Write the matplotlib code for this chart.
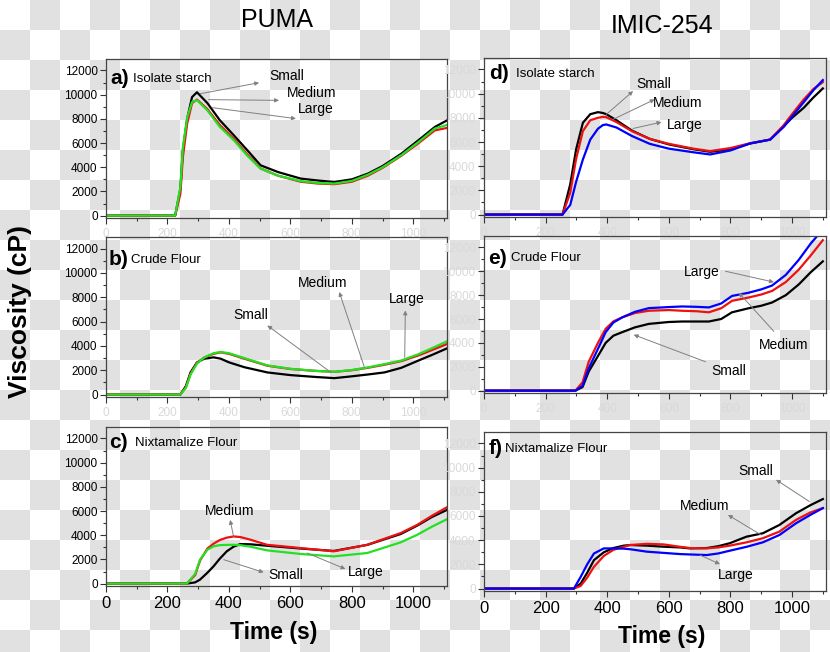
import matplotlib
matplotlib.use("Agg")
import matplotlib.pyplot as plt
import numpy as np

plt.rcParams['font.family'] = ['Liberation Sans', 'DejaVu Sans']

# ---- data (time in s, viscosity in cP) ----
t_a = [0, 225, 242, 250, 264, 280, 296, 330, 370, 416, 460, 503, 560, 634, 690, 743, 800, 852, 900, 961, 1020, 1070, 1110]
a_small = [0, 0, 2200, 5400, 8000, 9800, 10200, 9300, 7900, 6640, 5400, 4160, 3600, 3060, 2900, 2780, 3000, 3470, 4100, 5120, 6300, 7330, 7880]
a_medium = [0, 0, 1800, 4800, 7600, 9300, 9600, 8800, 7500, 6350, 5050, 3900, 3300, 2800, 2650, 2600, 2800, 3300, 3950, 4950, 6050, 7050, 7250]
a_large = [0, 0, 2400, 5600, 8100, 9400, 9550, 8700, 7350, 6230, 4950, 3880, 3300, 2850, 2700, 2650, 2870, 3380, 4000, 5000, 6150, 7200, 7500]

t_b = [0, 242, 260, 275, 296, 320, 350, 373, 400, 450, 525, 600, 680, 743, 800, 852, 906, 961, 1015, 1060, 1110]
b_small = [0, 0, 700, 1820, 2640, 2950, 3060, 2950, 2650, 2250, 1820, 1600, 1450, 1350, 1500, 1650, 1820, 2200, 2780, 3250, 3800]
b_medium = [0, 0, 600, 1700, 2600, 3050, 3350, 3470, 3350, 2950, 2370, 2100, 1950, 1870, 2000, 2200, 2450, 2750, 3200, 3650, 4160]
b_large = [0, 0, 550, 1650, 2550, 3050, 3400, 3500, 3400, 3000, 2400, 2120, 1950, 1870, 2020, 2230, 2500, 2800, 3300, 3800, 4380]

t_c = [0, 263, 290, 306, 330, 350, 370, 393, 415, 437, 470, 524, 633, 741, 850, 959, 1013, 1060, 1110]
c_small = [0, 0, 100, 330, 900, 1430, 2050, 2670, 3050, 3270, 3250, 3130, 2900, 2700, 3200, 4100, 4800, 5500, 6100]
c_medium = [0, 0, 700, 1900, 2900, 3300, 3600, 3800, 3900, 3850, 3630, 3210, 2940, 2670, 3210, 4180, 4860, 5600, 6320]
c_large = [0, 0, 800, 1980, 2800, 3080, 3180, 3200, 3210, 3180, 3050, 2750, 2450, 2250, 2530, 3410, 4040, 4700, 5330]

t_d = [0, 255, 280, 299, 321, 345, 370, 386, 397, 430, 480, 538, 600, 680, 734, 800, 864, 929, 973, 1000, 1038, 1070, 1100]
d_small = [0, 0, 2500, 5380, 7590, 8300, 8470, 8400, 8300, 7800, 6950, 6260, 5800, 5400, 5190, 5400, 5880, 6200, 7310, 8000, 8830, 9700, 10430]
d_medium = [0, 0, 1800, 4600, 6900, 7800, 8000, 8080, 8050, 7650, 6900, 6260, 5850, 5450, 5250, 5500, 5900, 6200, 7400, 8300, 9520, 10400, 10950]
d_large = [0, 0, 800, 2700, 4550, 6200, 7100, 7400, 7450, 7200, 6500, 5850, 5450, 5150, 4970, 5300, 5880, 6200, 7250, 8100, 9300, 10300, 11120]

t_e = [0, 297, 320, 340, 370, 395, 420, 449, 490, 535, 600, 643, 690, 730, 770, 805, 859, 900, 935, 980, 1022, 1060, 1100]
e_small = [0, 0, 300, 1600, 2900, 4000, 4600, 4900, 5300, 5590, 5750, 5790, 5790, 5790, 6000, 6560, 6900, 7110, 7380, 8000, 8900, 9900, 10830]
e_medium = [0, 0, 700, 2420, 4000, 5180, 5800, 6140, 6500, 6690, 6750, 6690, 6650, 6560, 6900, 7520, 7800, 8050, 8350, 9100, 10140, 11300, 12600]
e_large = [0, 0, 400, 1870, 3500, 4900, 5700, 6140, 6600, 6910, 7000, 7050, 7020, 6970, 7300, 7930, 8200, 8480, 8800, 9700, 10960, 12300, 13500]

t_f = [0, 292, 314, 335, 357, 389, 420, 454, 475, 529, 583, 637, 669, 723, 760, 798, 852, 905, 959, 1013, 1060, 1100]
f_small = [0, 0, 415, 1300, 2350, 3000, 3350, 3550, 3600, 3550, 3460, 3400, 3320, 3350, 3500, 3750, 4290, 4570, 5260, 6230, 6900, 7400]
f_medium = [0, 0, 220, 900, 1800, 2700, 3200, 3460, 3600, 3700, 3650, 3450, 3350, 3320, 3400, 3550, 3820, 4160, 4710, 5680, 6300, 6650]
f_large = [0, 0, 970, 2000, 2900, 3320, 3320, 3300, 3250, 3050, 2950, 2850, 2820, 2770, 2900, 3130, 3450, 3820, 4430, 5400, 6100, 6650]

# labels: (text, text pos, arrow tail, arrow head)
ann_a = [("Small", (588, 11540), (307, 10080), (498, 10990)),
         ("Medium", (670, 10140), (334, 9590), (563, 9530)),
         ("Large", (683, 8840), (345, 8930), (618, 8020))]
ann_b = [("Small", (470, 6500), (732, 1820), (525, 5680)),
         ("Medium", (705, 9200), (841, 2230), (759, 8430)),
         ("Large", (980, 7880), (972, 3060), (974, 6910))]
ann_c = [("Medium", (402, 6040), (415, 3900), (404, 5270)),
         ("Small", (584, 740), (383, 1980), (513, 930)),
         ("Large", (845, 930), (654, 2530), (779, 1210))]
ann_d = [("Small", (551, 10810), (397, 8280), (484, 10210)),
         ("Medium", (630, 9240), (418, 7860), (554, 9520)),
         ("Large", (652, 7370), (484, 7120), (576, 7640))]
ann_e = [("Large", (708, 9940), (784, 10000), (941, 9090)),
         ("Medium", (973, 3800), (941, 4960), (827, 8210)),
         ("Small", (795, 1650), (719, 2420), (486, 4680))]
ann_f = [("Small", (881, 9700), (1056, 7200), (948, 9000)),
         ("Medium", (717, 6790), (900, 4430), (792, 6090)),
         ("Large", (817, 1110), (701, 2770), (766, 2020))]

fig = plt.figure(figsize=(8.3, 6.52), dpi=100)

# checkerboard backdrop
H, W = 652, 830
yy, xx = np.mgrid[0:H, 0:W]
board = np.where(((xx // 30) + (yy // 30)) % 2 == 1, 0.88, 1.0)
fig.figimage(board, cmap='gray', vmin=0, vmax=1, origin='upper', zorder=-10)

green = '#22e022'
panels = [
    # rect, tag, name, t, small, medium, large, third colour, annotations, tag x, name x, label y
    ([0.1277, 0.6656, 0.411, 0.2439], 'a)', 'Isolate starch', t_a, a_small, a_medium, a_large, green, ann_a, 15, 88, 11300),
    ([0.1277, 0.3911, 0.411, 0.2454], 'b)', 'Crude Flour', t_b, b_small, b_medium, b_large, green, ann_b, 10, 80, 11100),
    ([0.1277, 0.1012, 0.411, 0.2439], 'c)', 'Nixtamalize Flour', t_c, c_small, c_medium, c_large, green, ann_c, 10, 95, 11650),
    ([0.5831, 0.6672, 0.412, 0.2439], 'd)', 'Isolate starch', t_d, d_small, d_medium, d_large, 'blue', ann_d, 18, 105, 11650),
    ([0.5831, 0.3972, 0.412, 0.2408], 'e)', 'Crude Flour', t_e, e_small, e_medium, e_large, 'blue', ann_e, 12, 88, 11100),
    ([0.5831, 0.0936, 0.412, 0.2439], 'f)', 'Nixtamalize Flour', t_f, f_small, f_medium, f_large, 'blue', ann_f, 14, 68, 11550),
]

faint = '#d9d9d9'
for i, (rect, tag, name, t, s, m, l, c3, anns, tx, nx, ly) in enumerate(panels):
    ax = fig.add_axes(rect)
    ax.set_facecolor('none')
    ax.plot(t, s, color='black', lw=1.6)
    ax.plot(t, m, color='#ee1111', lw=1.6)
    ax.plot(t, l, color=c3, lw=1.6)
    ax.set_xlim(0, 1110)
    ax.set_ylim(-200, 12950)
    ax.set_xticks(range(0, 1001, 200))
    ax.set_xticks(range(100, 1101, 200), minor=True)
    ax.set_yticks(range(0, 12001, 2000))
    ax.set_yticks(range(1000, 12001, 2000), minor=True)
    ax.tick_params(which='major', length=4, width=0.8, color='#333333')
    ax.tick_params(which='minor', length=2.5, width=0.8, color='#333333')
    for sp in ax.spines.values():
        sp.set_color('#444444')
        sp.set_linewidth(0.9)
    right = i >= 3
    bottom = i in (2, 5)
    ax.tick_params(axis='y', labelsize=8.5, labelcolor=faint if right else 'black', pad=2)
    if bottom:
        ax.tick_params(axis='x', labelsize=12, labelcolor='black', pad=3)
    else:
        ax.tick_params(axis='x', labelsize=8.5, labelcolor=faint, pad=3)

    ax.text(tx, ly, tag, fontsize=15, fontweight='bold', va='center', ha='left')
    ax.text(nx, ly, name, fontsize=9.5, va='center', ha='left')
    for txt, pos, tail, head in anns:
        ax.annotate('', xy=head, xytext=tail,
                    arrowprops=dict(arrowstyle='-|>', color='#808080', lw=0.7,
                                    mutation_scale=6, shrinkA=0, shrinkB=0))
        ax.text(pos[0], pos[1], txt, fontsize=10, ha='center', va='center')

fig.text(277 / 830, 1 - 20 / 652, 'PUMA', fontsize=18, ha='center', va='center')
fig.text(662 / 830, 1 - 26 / 652, 'IMIC-254', fontsize=18, ha='center', va='center')
fig.text(20 / 830, 1 - 312 / 652, 'Viscosity (cP)', fontsize=19, fontweight='bold',
         rotation=90, ha='center', va='center')
fig.text(274 / 830, 1 - 633 / 652, 'Time (s)', fontsize=16.5, fontweight='bold',
         ha='center', va='center')
fig.text(662 / 830, 1 - 636 / 652, 'Time (s)', fontsize=16.5, fontweight='bold',
         ha='center', va='center')

fig.savefig('out.png', dpi=100)
